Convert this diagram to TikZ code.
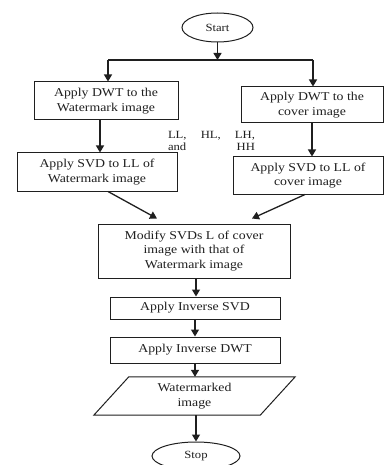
\documentclass[tikz,border=0pt]{standalone}
\usepackage{fontspec}
\setmainfont{Liberation Serif}[FakeStretch=1.15]
\usetikzlibrary{shapes.geometric,arrows.meta,calc}
\definecolor{ink}{gray}{0.12}
\begin{document}
\begin{tikzpicture}[x=1pt,y=-1pt,
  every node/.style={text=ink,inner sep=0pt},
  box/.style={draw=ink,line width=1pt,rectangle,align=center,font=\fontsize{12}{14.5}\selectfont},
  term/.style={draw=ink,line width=1pt,ellipse,font=\fontsize{11}{13}\selectfont},
  arr/.style={draw=ink,line width=1.3pt,-{Triangle[length=7pt,width=8pt]}},
  ln/.style={draw=ink,line width=1.3pt}]
\useasboundingbox (0,0) rectangle (385,465);

\node[term,minimum width=71pt,minimum height=29pt] (start) at (217.5,27.5) {Start};
\coordinate (split) at (217.5,60);
\coordinate (sl) at (108,60);
\coordinate (sr) at (313,60);

\node[box,minimum width=144pt,minimum height=38pt] (lb1) at (106,101) {Apply DWT to the\\Watermark image};
\node[box,minimum width=142pt,minimum height=36pt] (rb1) at (312,105) {Apply DWT to the\\cover image};
\node[box,minimum width=160pt,minimum height=38pt] (lb2) at (97,172) {Apply SVD to LL of\\Watermark image};
\node[box,minimum width=150pt,minimum height=37pt] (rb2) at (308,175.5) {Apply SVD to LL of\\cover image};

\node[text width=87pt,font=\fontsize{11}{12}\selectfont] (lbl) at (211.5,141) {LL,\hfill HL,\hfill LH,\\and\hfill HH};

\node[box,minimum width=192pt,minimum height=54pt] (mod) at (194,251) {Modify SVDs L of cover\\image with that of\\Watermark image};
\node[box,minimum width=170pt,minimum height=22pt] (isvd) at (195,308) {Apply Inverse SVD};
\node[box,minimum width=170pt,minimum height=26pt] (idwt) at (195,350) {Apply Inverse DWT};

\node[align=center,minimum width=201pt,minimum height=38pt,font=\fontsize{12}{14.5}\selectfont] (wm) at (194.5,396) {Watermarked\\image};
\draw[ln,line width=1pt] ($(wm.north west)+(35,0)$) -- (wm.north east) -- ($(wm.south east)+(-35,0)$) -- (wm.south west) -- cycle;

\node[term,minimum width=88pt,minimum height=28pt] (stop) at (196,456) {Stop};

\draw[arr] (start) -- (split);
\draw[ln] (sl) -- (sr);
\draw[arr] (sl) -- (sl |- lb1.north);
\draw[arr] (sr) -- (sr |- rb1.north);
\draw[arr] ([xshift=-6pt]lb1.south) -- ([xshift=-6pt]lb1.south |- lb2.north);
\draw[arr] (rb1.south) -- (rb1.south |- rb2.north);
\draw[arr] ([xshift=11pt]lb2.south) -- ([xshift=-37pt,yshift=5pt]mod.north);
\draw[arr] ([xshift=-3pt]rb2.south) -- ([xshift=58pt,yshift=5pt]mod.north);
\draw[arr] ([xshift=2pt]mod.south) -- ([xshift=2pt]mod.south |- isvd.north);
\draw[arr] (isvd) -- (idwt);
\draw[arr] (idwt) -- (idwt.south |- wm.north);
\draw[arr] ([xshift=1.5pt]wm.south) -- (stop);
\end{tikzpicture}
\end{document}
